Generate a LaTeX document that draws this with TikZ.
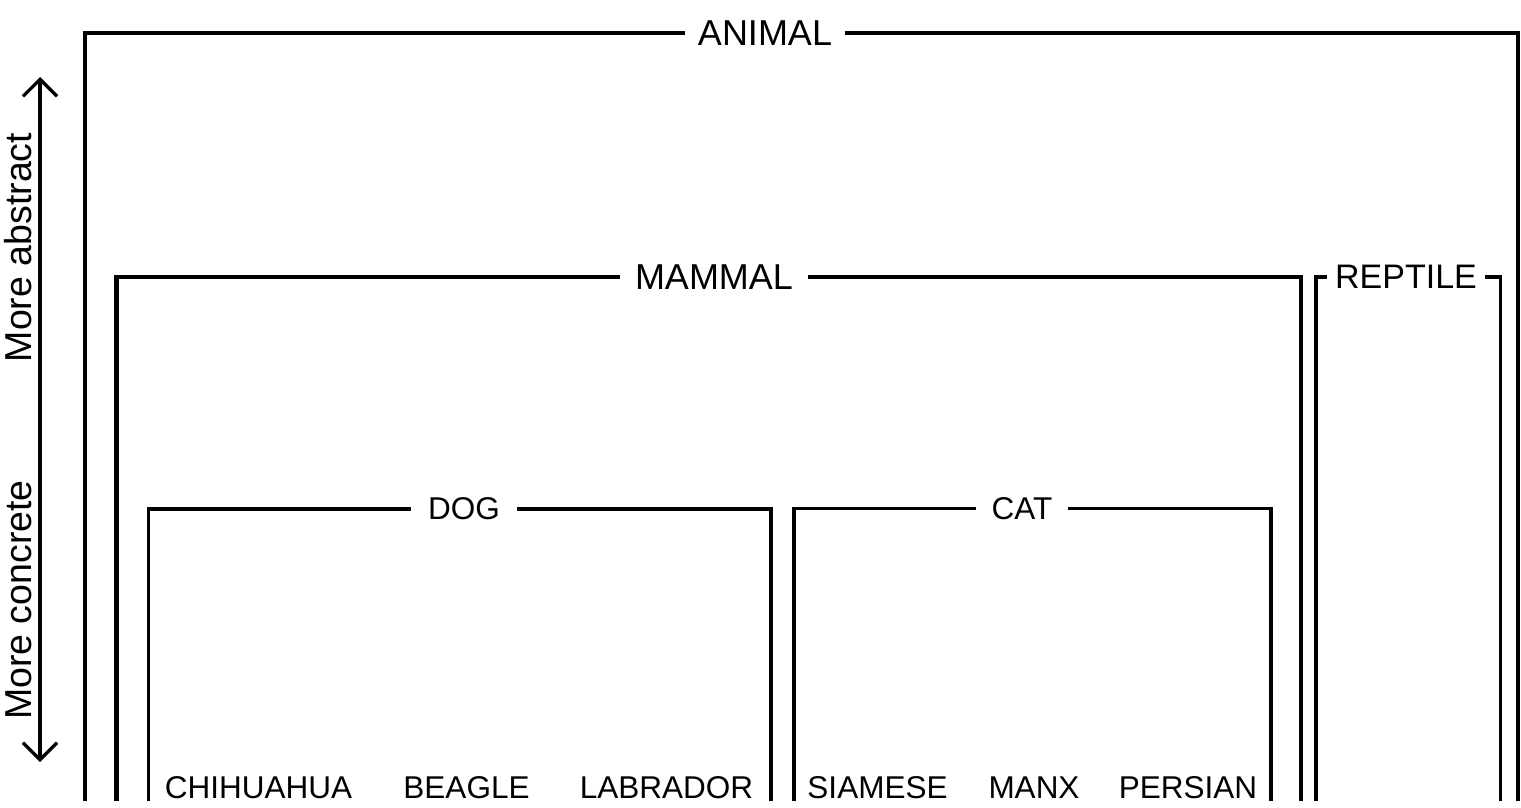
\documentclass[tikz,border=0pt]{standalone}
\usepackage{fontspec}
\setmainfont{Liberation Sans}
\usetikzlibrary{arrows.meta}
\begin{document}
\begin{tikzpicture}[x=1pt,y=-1pt,
  lab/.style={inner xsep=#1, inner ysep=0pt, outer sep=0pt},
  lab/.default=14pt,
  bigfont/.style={font=\fontsize{36}{40}\selectfont},
  midfont/.style={font=\fontsize{34}{38}\selectfont},
  smallfont/.style={font=\fontsize{31.5}{36}\selectfont},
  sidefont/.style={font=\fontsize{37.5}{42}\selectfont},
  wtop/.style={line width=4.2pt},
  wmid/.style={line width=3.6pt},
  wrep/.style={line width=3.2pt},
  leaf/.style={smallfont, anchor=base, inner sep=0pt},
  barb/.tip={Straight Barb[length=17pt,width=34pt,line width=3.2pt]},
  axisarrow/.style={line width=3.2pt, barb-barb},
]
\useasboundingbox (0,0) rectangle (1521,808);

% ANIMAL
\node[lab=13pt, bigfont] (animal) at (765,33) {ANIMAL};
\coordinate (animalL) at (85,801);
\coordinate (animalR) at (1518,801);
\draw[wtop] (animal.west) -| (animalL);
\draw[wtop] (animal.east) -| (animalR);

% MAMMAL
\node[lab=15pt, bigfont] (mammal) at (714,277) {MAMMAL};
\coordinate (mammalL) at (116.5,801);
\coordinate (mammalR) at (1301,801);
\draw[wtop] (mammal.west) -| (mammalL);
\draw[wtop] (mammal.east) -| (mammalR);

% REPTILE
\node[lab=8pt, midfont] (reptile) at (1406,277) {REPTILE};
\coordinate (reptileL) at (1316,801);
\coordinate (reptileR) at (1500.5,801);
\draw[wrep] (reptile.west) -| (reptileL);
\draw[wrep] (reptile.east) -| (reptileR);

% DOG
\node[lab=17pt, smallfont] (dog) at (464,509) {DOG};
\coordinate (dogL) at (148.5,801);
\coordinate (dogR) at (771,801);
\draw[wmid] (dog.west) -| (dogL);
\draw[wmid] (dog.east) -| (dogR);

% CAT
\node[lab=16pt, smallfont] (cat) at (1022,508.5) {CAT};
\coordinate (catL) at (794,801);
\coordinate (catR) at (1271,801);
\draw[wmid] (cat.west) -| (catL);
\draw[wmid] (cat.east) -| (catR);

% leaves
\node[leaf] (chihuahua) at (258.5,798) {CHIHUAHUA};
\node[leaf] (beagle) at (466.5,798) {BEAGLE};
\node[leaf] (labrador) at (666.5,798) {LABRADOR};
\node[leaf] (siamese) at (877.5,798) {SIAMESE};
\node[leaf] (manx) at (1034,798) {MANX};
\node[leaf] (persian) at (1188,798) {PERSIAN};

% axis
\coordinate (axtop) at (40,77);
\coordinate (axbot) at (40,762);
\draw[axisarrow] (axbot) -- (axtop);
\node[sidefont, rotate=90, anchor=base, inner sep=0pt] (abstract) at (31,247.5) {More abstract};
\node[sidefont, rotate=90, anchor=base, inner sep=0pt] (concrete) at (31,600) {More concrete};
\end{tikzpicture}
\end{document}
